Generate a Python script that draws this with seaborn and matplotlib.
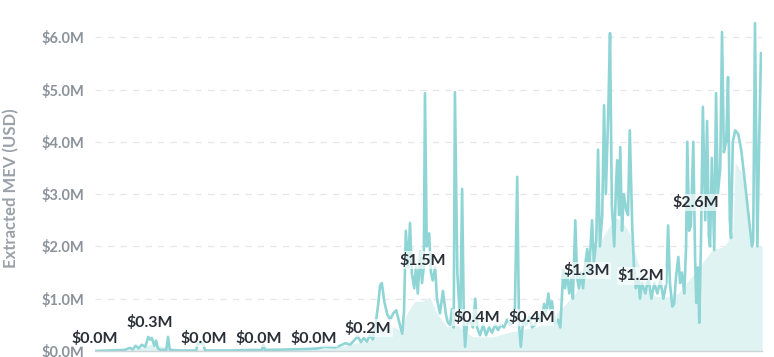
import matplotlib
matplotlib.use("Agg")
import matplotlib.pyplot as plt
import seaborn as sns
import pandas as pd

sns.set_theme(style="white")
plt.rcParams["font.family"] = ["Lato", "DejaVu Sans"]

# daily extracted MEV: day index from start, value in $M (rows line up)
line_days = [
    0, 25, 50, 58, 63, 68, 73, 78, 84, 89, 92, 95, 99, 102, 105, 109, 119, 122, 125,
    142, 169, 172, 180, 184, 225, 259, 279, 281, 284,
    326, 359, 372, 384, 401, 409, 418, 426, 434, 439,
    444, 449, 454, 459, 464, 469, 473, 476, 479, 483,
    488, 493, 498, 503, 508, 513, 516, 519, 523, 526,
    529, 533, 536, 539, 543, 546, 549, 551, 554, 558,
    561, 564, 568, 571, 576, 581, 586, 589, 593, 596,
    599, 601, 605, 608, 610, 613, 616, 618, 621, 626,
    631, 635, 638, 643, 648, 653, 658, 663, 668, 673,
    678, 683, 688, 693, 698, 701, 705, 708, 711, 715,
    720, 725, 730, 735, 740, 745, 750, 753, 757, 760,
    763, 768, 773, 777, 782, 785, 788, 792, 795, 798,
    802, 805, 808, 812, 815, 818, 822, 825, 830, 833,
    837, 840, 843, 847, 850, 853, 857, 860, 863, 867,
    870, 872, 875, 877, 880, 883, 887, 890, 893, 897,
    900, 903, 907, 910, 913, 919, 924, 929, 934, 939,
    944, 949, 954, 957, 960, 964, 967, 970, 974, 977,
    980, 984, 987, 989, 992, 995, 999, 1002, 1004, 1007,
    1009, 1012, 1015, 1019, 1022, 1025, 1027, 1030, 1034, 1037,
    1040, 1044, 1047, 1050, 1054, 1057, 1060, 1062, 1065, 1069,
    1074, 1079, 1084, 1089, 1094, 1097, 1099, 1102, 1106, 1109, 1112,
]
line_vals = [
    0.0, 0.01, 0.02, 0.06, 0.03, 0.10, 0.05, 0.12, 0.08, 0.27, 0.22, 0.25, 0.10, 0.20, 0.05, 0.02, 0.02, 0.27, 0.02,
    0.01, 0.01, 0.15, 0.15, 0.01, 0.01, 0.02, 0.02, 0.12, 0.02,
    0.03, 0.04, 0.05, 0.08, 0.07, 0.10, 0.15, 0.12, 0.22, 0.28,
    0.17, 0.25, 0.18, 0.30, 0.22, 0.55, 0.90, 1.25, 1.30, 0.95,
    0.70, 0.60, 0.72, 0.78, 0.55, 0.33, 0.75, 2.30, 1.60, 2.45,
    1.50, 1.20, 1.60, 1.10, 1.90, 1.30, 1.60, 4.93, 2.00, 2.25,
    1.50, 1.35, 1.60, 1.00, 0.72, 1.15, 0.70, 0.55, 0.50, 0.80,
    0.45, 4.95, 1.50, 0.90, 0.60, 3.10, 0.50, 0.08, 0.50, 0.60,
    0.45, 1.00, 0.45, 0.30, 0.50, 0.30, 0.45, 0.35, 0.50, 0.40,
    0.50, 0.45, 0.60, 0.50, 0.55, 0.70, 3.33, 0.50, 0.08, 0.60,
    0.50, 0.65, 0.45, 0.50, 0.70, 0.55, 0.90, 0.70, 1.10, 0.80,
    0.95, 0.50, 0.60, 0.45, 1.55, 1.20, 1.50, 1.10, 1.40, 1.00,
    2.50, 1.40, 1.20, 1.50, 1.20, 1.60, 1.95, 1.50, 2.50, 1.70,
    2.10, 3.85, 2.00, 2.60, 4.70, 3.00, 4.55, 6.08, 2.80, 2.00,
    3.20, 3.65, 2.60, 3.90, 2.30, 3.00, 2.70, 2.60, 4.22, 2.40,
    1.60, 1.20, 1.40, 1.00, 1.30, 1.10, 1.40, 1.00, 1.30, 1.10,
    1.35, 1.00, 1.30, 2.40, 1.30, 0.85, 0.90, 1.40, 1.80, 1.30,
    1.50, 1.10, 2.00, 4.00, 2.30, 2.40, 4.00, 1.80, 0.92, 1.60,
    0.54, 2.20, 4.67, 2.50, 4.40, 2.20, 2.00, 3.69, 1.93, 4.93,
    3.00, 3.50, 6.10, 3.80, 4.00, 5.24, 2.50, 2.16, 4.00, 4.22,
    4.15, 3.85, 3.35, 2.83, 2.30, 2.00, 2.10, 6.27, 2.00, 4.00, 5.70,
]

# smoothed average drawn as the shaded area, $M
fill_days = [
    0, 50, 75, 92, 109, 125, 142, 175, 192, 276,
    342, 376, 409, 434, 459, 471, 498, 509, 521, 534,
    546, 559, 571, 588, 605, 615, 631, 665, 688, 710,
    738, 760, 782, 802, 810, 838, 860, 872, 885, 893,
    905, 922, 935, 952, 974, 1002, 1030, 1052, 1065, 1069,
    1080, 1090, 1097, 1114,
]
fill_vals = [
    0.0, 0.01, 0.06, 0.12, 0.10, 0.06, 0.02, 0.04, 0.02, 0.02,
    0.03, 0.05, 0.08, 0.15, 0.20, 0.46, 0.46, 0.40, 0.72, 0.95,
    0.95, 1.03, 0.72, 0.46, 0.50, 0.40, 0.27, 0.27, 0.35, 0.40,
    0.46, 0.60, 0.85, 1.10, 1.36, 2.00, 2.40, 2.55, 2.40, 2.25,
    1.74, 1.22, 1.05, 1.03, 1.10, 1.50, 1.93, 2.00, 2.30, 3.60,
    3.40, 2.70, 2.00, 2.00,
]

# quarterly average labels
label_days = [0, 91, 182, 273, 365, 456, 547, 638, 730, 821, 912, 1004]
label_vals = [0.0, 0.3, 0.0, 0.0, 0.0, 0.2, 1.5, 0.4, 0.4, 1.3, 1.2, 2.6]

df = pd.DataFrame({"day": line_days, "mev": line_vals})

fig = plt.figure(figsize=(7.74, 3.57), dpi=100)
ax = fig.add_axes([0.1227, 0.0168, 0.862, 0.952])

ax.fill_between(fill_days, fill_vals, color="#dff3f2", linewidth=0, zorder=1)
sns.lineplot(data=df, x="day", y="mev", ax=ax, color="#90d5d5", linewidth=1.9, zorder=2)

for d, v in zip(label_days, label_vals):
    ax.annotate(f"${v:.1f}M", xy=(d, v), xytext=(0, 9), textcoords="offset points",
                ha="center", va="center", fontsize=11.5, fontweight="bold", color="#2b3038",
                bbox=dict(boxstyle="square,pad=0.08", fc="white", ec="none", alpha=0.65),
                zorder=5, annotation_clip=False)

ax.set_xlim(0, 1114)
ax.set_ylim(0, 6.5)
ax.set_yticks([0, 1, 2, 3, 4, 5, 6])
ax.set_yticklabels([f"${t:.1f}M" for t in range(7)])
ax.set_xticks([0, 1112])
ax.set_xticklabels(["", ""])

ax.grid(axis="y", color="#e4e7eb", linestyle=(0, (5, 5)), linewidth=0.9)
ax.set_axisbelow(True)
for s in ["top", "right", "left"]:
    ax.spines[s].set_visible(False)
ax.spines["bottom"].set_color("#cfd4d9")
ax.spines["bottom"].set_linewidth(1)

ax.tick_params(axis="y", length=0, pad=8, labelsize=10.5, labelcolor="#8b929a")
ax.tick_params(axis="x", length=6, color="#cfd4d9", width=1)
for lab in ax.get_yticklabels():
    lab.set_fontweight("bold")

ax.set_xlabel("")
ax.set_ylabel("Extracted MEV (USD)", fontsize=12, fontweight="bold", color="#9aa1a9")
ax.yaxis.set_label_coords(-0.113, 0.48)

fig.savefig("out.png", dpi=100)
